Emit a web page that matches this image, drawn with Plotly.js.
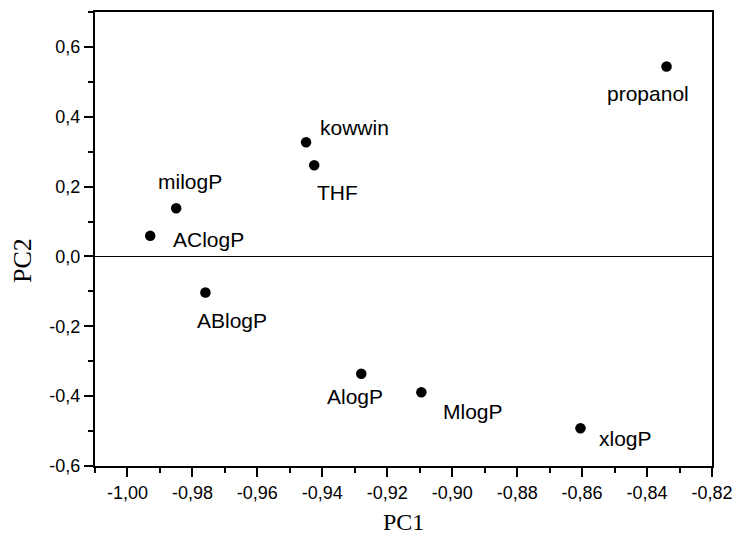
<!DOCTYPE html>
<html>
<head>
<meta charset="utf-8">
<script src="https://cdn.plot.ly/plotly-3.0.1.min.js"></script>
<style>
  html, body { margin: 0; padding: 0; background: #fff; }
  #chart { width: 734px; height: 536px; }
</style>
</head>
<body>
<div id="chart"></div>
<script>
// Data
const names = ['propanol', 'kowwin', 'THF', 'milogP', 'AClogP', 'ABlogP', 'AlogP', 'MlogP', 'xlogP'];
const pc1 = [-0.834, -0.945, -0.9425, -0.985, -0.993, -0.976, -0.928, -0.9095, -0.8605];
const pc2 = [0.544, 0.327, 0.261, 0.138, 0.059, -0.103, -0.336, -0.389, -0.492];

// Tick labels
const xTickVals = [-1.00, -0.98, -0.96, -0.94, -0.92, -0.90, -0.88, -0.86, -0.84, -0.82];
const xTickText = ['-1,00', '-0,98', '-0,96', '-0,94', '-0,92', '-0,90', '-0,88', '-0,86', '-0,84', '-0,82'];
const yTickVals = [-0.6, -0.4, -0.2, 0.0, 0.2, 0.4, 0.6];
const yTickText = ['-0,6', '-0,4', '-0,2', '0,0', '0,2', '0,4', '0,6'];

// Label placement offsets (pixels) – style only
const labelDx = [-19, 48, 23, 14, 58, 27, -6, 52, 45];
const labelDy = [-27, 15, -27, 27, -4, -28, -23, -19, -10];

const sans = 'Liberation Sans, Arial, sans-serif';
const serif = 'Liberation Serif, Times New Roman, serif';

const trace = {
  type: 'scatter',
  mode: 'markers',
  x: pc1,
  y: pc2,
  marker: { color: '#000', size: 10.5 },
  hoverinfo: 'text',
  text: names,
  showlegend: false
};

const annotations = names.map((n, i) => ({
  x: pc1[i], y: pc2[i], xref: 'x', yref: 'y',
  text: n, showarrow: false,
  xanchor: 'center', yanchor: 'middle',
  xshift: labelDx[i], yshift: labelDy[i],
  font: { family: sans, size: 21, color: '#000' }
}));

annotations.push({
  xref: 'paper', yref: 'paper', x: 0.5, y: 0,
  xanchor: 'center', yanchor: 'middle', yshift: -56,
  text: 'PC1', showarrow: false, borderpad: 0,
  font: { family: serif, size: 24, color: '#000' }
});
annotations.push({
  xref: 'paper', yref: 'paper', x: 0, y: 0.4515,
  xanchor: 'center', yanchor: 'middle', xshift: -73,
  text: 'PC2', showarrow: false, textangle: -90,
  font: { family: serif, size: 26, color: '#000' }
});

const layout = {
  width: 734, height: 536,
  margin: { l: 95, r: 22, t: 12, b: 70, pad: 0 },
  paper_bgcolor: '#fff', plot_bgcolor: '#fff',
  showlegend: false,
  xaxis: {
    range: [-1.01, -0.82],
    tickmode: 'array', tickvals: xTickVals, ticktext: xTickText,
    ticks: 'outside', ticklen: 9, tickwidth: 2, tickcolor: '#000',
    minor: { dtick: 0.01, tick0: -1.0, ticks: 'outside', ticklen: 5, tickwidth: 2, tickcolor: '#000', showgrid: false },
    showgrid: false, zeroline: false,
    showline: true, linecolor: '#000', linewidth: 2, mirror: true,
    tickfont: { family: sans, size: 18, color: '#000' }
  },
  yaxis: {
    range: [-0.6, 0.7],
    tickmode: 'array', tickvals: yTickVals, ticktext: yTickText,
    ticks: 'outside', ticklen: 9, tickwidth: 2, tickcolor: '#000',
    minor: { dtick: 0.1, tick0: 0, ticks: 'outside', ticklen: 5, tickwidth: 2, tickcolor: '#000', showgrid: false },
    showgrid: false,
    zeroline: true, zerolinecolor: '#000', zerolinewidth: 1.5,
    showline: true, linecolor: '#000', linewidth: 2, mirror: true,
    tickfont: { family: sans, size: 18, color: '#000' }
  },
  annotations: annotations
};

Plotly.newPlot('chart', [trace], layout, { displayModeBar: false, staticPlot: true });
</script>
</body>
</html>
